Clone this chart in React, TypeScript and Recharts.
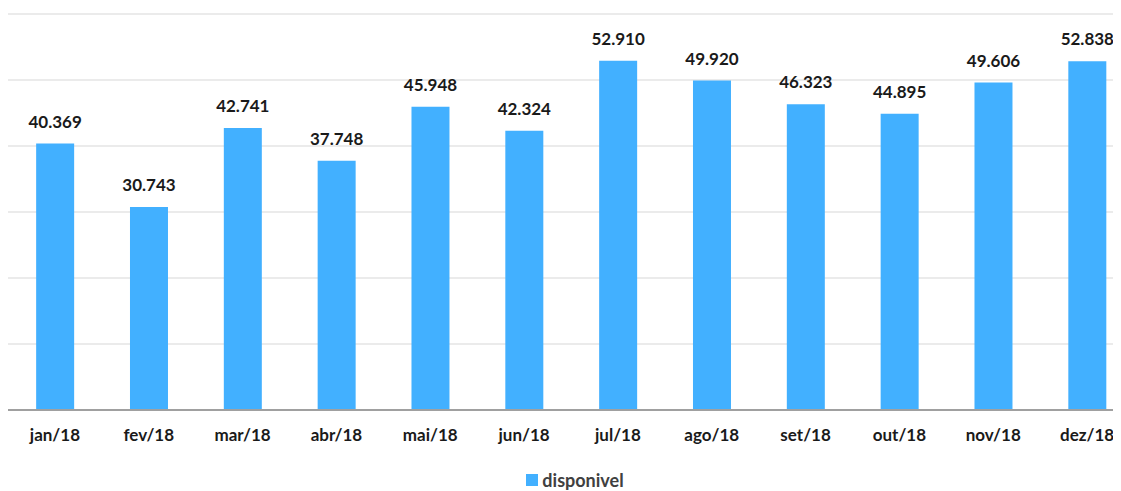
import { BarChart, Bar, XAxis, YAxis, CartesianGrid, Legend, LabelList } from "recharts";

const months = ["jan/18", "fev/18", "mar/18", "abr/18", "mai/18", "jun/18", "jul/18", "ago/18", "set/18", "out/18", "nov/18", "dez/18"];
const disponivel = [40369, 30743, 42741, 37748, 45948, 42324, 52910, 49920, 46323, 44895, 49606, 52838];
const yTicks = [0, 10000, 20000, 30000, 40000, 50000, 60000];

const data = months.map((m, i) => ({ month: m, disponivel: disponivel[i] }));

// pt-BR style thousands separator
const fmt = (v: number) => String(v).replace(/\B(?=(\d{3})+(?!\d))/g, ".");

const FONT = "Lato, 'Open Sans', sans-serif";

const renderLegend = () => (
  <div style={{ display: "flex", justifyContent: "center", alignItems: "center", fontFamily: FONT, height: 22 }}>
    <span style={{ width: 12, height: 12, background: "#42b0ff", display: "inline-block", marginRight: 4, marginLeft: 8 }} />
    <span style={{ fontSize: 18, fontWeight: 700, color: "#404040", lineHeight: "22px" }}>disponivel</span>
  </div>
);

export default function App() {
  return (
    <div style={{ width: 1105, height: 483, overflow: "hidden", background: "#fff" }}>
      <BarChart
        width={1130}
        height={483}
        data={data}
        margin={{ top: 6, right: 4, left: 0, bottom: 13 }}
        barCategoryGap="30%"
      >
        <CartesianGrid vertical={false} stroke="#ebebeb" strokeWidth={2} />
        <YAxis hide domain={[0, 60000]} ticks={yTicks} width={0} />
        <XAxis
          dataKey="month"
          tickLine={false}
          axisLine={{ stroke: "#a0a0a0", strokeWidth: 2 }}
          tick={{ fontSize: 17, fontWeight: 700, fill: "#1a1a1a", fontFamily: FONT }}
          tickMargin={13}
          height={46}
          interval={0}
        />
        <Legend verticalAlign="bottom" content={renderLegend} wrapperStyle={{ top: 461, bottom: "auto", height: 22 }} />
        <Bar dataKey="disponivel" name="disponivel" fill="#42b0ff" isAnimationActive={false}>
          <LabelList
            dataKey="disponivel"
            position="top"
            offset={16}
            formatter={(v: any) => fmt(Number(v))}
            style={{ fontSize: 17, fontWeight: 700, fill: "#1a1a1a", fontFamily: FONT }}
          />
        </Bar>
      </BarChart>
    </div>
  );
}
